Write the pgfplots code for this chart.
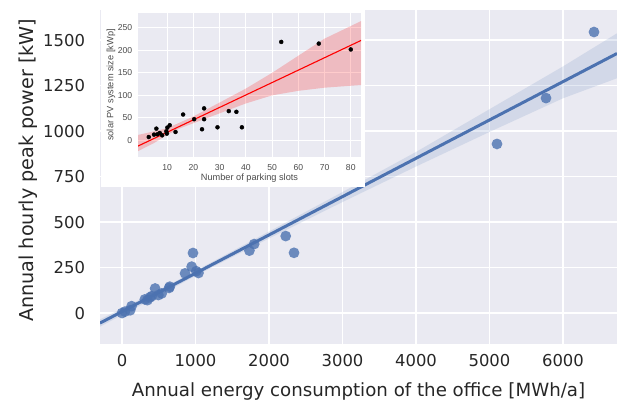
\documentclass[border=0pt]{standalone}
\usepackage{pgfplots}
\pgfplotsset{compat=1.18}
\usepackage{fontspec}
\setmainfont{DejaVu Sans}
\newfontfamily\insetfont{Liberation Sans}
\definecolor{sbbg}{HTML}{EAEAF2}
\definecolor{sbblue}{HTML}{4C72B0}
\definecolor{txt}{HTML}{262626}
\begin{document}
\begin{tikzpicture}
\useasboundingbox (0,0) rectangle (617bp,403bp);
\begin{axis}[
  at={(100bp,59bp)}, anchor=south west,
  scale only axis, width=517bp, height=334bp,
  xmin=-300, xmax=6735, ymin=-170, ymax=1665,
  xtick={0,1000,...,6000}, ytick={0,250,...,1500},
  axis background/.style={fill=sbbg},
  axis line style={draw=none},
  major tick length=0pt,
  grid=major,
  major grid style={white, line width=1.6bp},
  /pgf/number format/assume math mode=true,
  /pgf/number format/set thousands separator={},
  tick label style={font=\fontsize{16.4bp}{19bp}\selectfont, text=txt},
  yticklabel style={xshift=-11.5bp},
  xticklabel style={yshift=-7bp},
  xlabel={Annual energy consumption of the office [MWh/a]},
  ylabel={Annual hourly peak power [kW]},
  xlabel style={font=\fontsize{18.2bp}{21bp}\selectfont, text=txt, at={(axis description cs:0.5,0)}, anchor=center, yshift=-47bp},
  ylabel style={font=\fontsize{19.2bp}{22bp}\selectfont, text=txt, at={(axis description cs:-0.139,0.52)}, anchor=center},
]
% confidence band
\addplot[fill=sbblue, fill opacity=0.15, draw=none] coordinates {
  (-300,-35) (0,25) (500,125) (1000,232) (1500,340) (2000,448) (3000,665) (4000,885) (5000,1120) (6000,1355) (6735,1537)
  (6735,1290) (6000,1180) (5000,995) (4000,805) (3000,610) (2000,410) (1500,308) (1000,205) (500,95) (0,-10) (-300,-75)
} -- cycle;
% regression line
\addplot[sbblue, line width=3bp] coordinates {(-300,-55) (6735,1426)};
% data points
\addplot[only marks, color=sbblue, mark=*, mark size=5.4bp, mark options={fill=sbblue, draw opacity=0, fill opacity=0.8}] coordinates {
  (0,0) (40,8) (110,15) (130,38) (310,75) (345,71) (380,86) (404,93) (450,135) (495,99) (540,108) (650,145) (640,138)
  (857,218) (947,255) (965,330) (1010,230) (1040,220)
  (1733,343) (1798,379) (2227,423) (2340,331)
  (5102,929) (5769,1181) (6422,1544)
};
\end{axis}
\fill[white] (101bp,216bp) rectangle (365bp,403bp);
\begin{axis}[
  at={(138bp,246bp)}, anchor=south west,
  scale only axis, width=223bp, height=144bp,
  xmin=-1.1, xmax=83.9, ymin=-37, ymax=283,
  xtick={10,20,...,80}, ytick={0,50,...,250},
  axis background/.style={fill=sbbg},
  axis line style={draw=none},
  major tick length=0pt,
  grid=major,
  major grid style={white, line width=0.8bp},
  /pgf/number format/assume math mode=true,
  tick label style={font=\insetfont\fontsize{8.6bp}{10bp}\selectfont, text=black!70},
  yticklabel style={xshift=-2.3bp},
  xticklabel style={yshift=-4.4bp},
  label style={font=\insetfont\fontsize{9.2bp}{11bp}\selectfont, text=black!70},
  xlabel={Number of parking slots},
  ylabel={solar PV system size [kWp]},
  xlabel style={at={(axis description cs:0.5,0)}, anchor=center, yshift=-21bp},
  ylabel style={at={(axis description cs:-0.121,0.5)}, anchor=center},
]
\addplot[fill=red, fill opacity=0.2, draw=none] coordinates {
  (-1.1,12) (5,20) (10,27) (15,40) (20,53) (30,84) (40,115) (50,150) (60,188) (70,226) (83.9,265)
  (83.9,123) (70,117) (60,110) (50,100) (40,82) (30,60) (20,38) (15,27) (10,12) (5,-6) (-1.1,-24)
} -- cycle;
\addplot[red, line width=1.1bp] coordinates {(-1.1,-12.7) (83.9,222)};
\addplot[only marks, color=black, mark=*, mark size=2bp, mark options={fill=black, draw=none}] coordinates {
  (3.0,7.4) (5.0,12.7) (5.9,26) (6.3,13.4) (7.2,16.3) (8.1,11.2) (9.7,20) (9.9,15) (10.1,28.4) (11.0,33.6)
  (13.2,18.6) (16.1,57.4) (20.3,47) (24.1,71) (24.1,47) (23.3,24.6) (29.2,29) (33.5,65) (36.4,63.4) (38.5,29)
  (53.5,218.7) (67.8,215) (80,202)
};
\end{axis}
\end{tikzpicture}
\end{document}
